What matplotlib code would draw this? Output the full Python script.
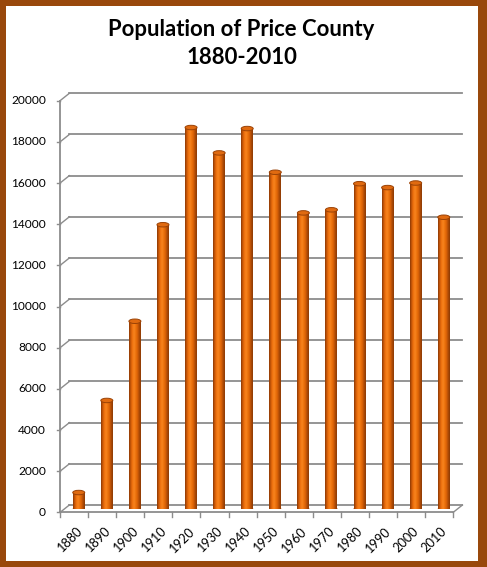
import matplotlib
matplotlib.use('Agg')
import matplotlib.pyplot as plt
from matplotlib.patches import Ellipse, Rectangle
import numpy as np

years = ['1880', '1890', '1900', '1910', '1920', '1930', '1940',
         '1950', '1960', '1970', '1980', '1990', '2000', '2010']
population = [785, 5258, 9106, 13795, 18517, 17284, 18467,
              16344, 14370, 14520, 15788, 15600, 15822, 14159]
yticks = list(range(0, 20001, 2000))

plt.rcParams['font.family'] = ['Lato', 'DejaVu Sans']

W, H = 487, 567
fig = plt.figure(figsize=(W / 100, H / 100), dpi=100)
fig.patch.set_facecolor('white')

# axes = middle depth of the fake 3d box (pixels)
ax_l, ax_r, ax_top, ax_bot = 64.7, 457.8, 97.0, 508.7
ax = fig.add_axes([ax_l / W, (H - ax_bot) / H, (ax_r - ax_l) / W, (ax_bot - ax_top) / H])
n = len(years)
px2x = n / (ax_r - ax_l)
px2y = 20000 / (ax_bot - ax_top)
dx = 4.65 * px2x   # half depth offset
dy = 3.7 * px2y

grid_c = '#8c8c8c'
tick_fs = 8.6
# back wall gridlines and left side diagonals
for v in yticks:
    ax.plot([-0.5 + dx, n - 0.5 + dx], [v + dy, v + dy], color=grid_c, lw=1.3, zorder=1, clip_on=False)
    ax.plot([-0.5 - dx, -0.5 + dx], [v - dy, v + dy], color=grid_c, lw=1.0, zorder=1, clip_on=False)
    ax.plot([-0.5 - dx - 3 * px2x, -0.5 - dx], [v - dy, v - dy], color=grid_c, lw=1.0, clip_on=False)
    ax.text(-0.5 - dx - 14 * px2x, v - dy, str(v), ha='right', va='center', fontsize=tick_fs, color='black')

# front axis + floor
ax.plot([-0.5 - dx, -0.5 - dx], [-dy, 20000 - dy], color=grid_c, lw=1.3, clip_on=False)
ax.plot([-0.5 - dx, n - 0.5 - dx], [-dy, -dy], color=grid_c, lw=1.3, clip_on=False, zorder=2)
ax.plot([n - 0.5 - dx, n - 0.5 + dx], [-dy, dy], color=grid_c, lw=1.0, clip_on=False)
for k in range(n + 1):
    ax.plot([k - 0.5 - dx, k - 0.5 - dx], [-dy, -dy - 5 * px2y], color=grid_c, lw=1.0, clip_on=False)

# cylinders
bw = 12 * px2x
shade = np.array([
    [0.55, 0.22, 0.02],
    [0.80, 0.35, 0.03],
    [0.94, 0.45, 0.06],
    [0.97, 0.52, 0.12],
    [0.93, 0.45, 0.05],
    [0.85, 0.38, 0.03],
    [0.68, 0.29, 0.02],
    [0.55, 0.23, 0.02],
])
grad = np.array([[np.interp(t, np.linspace(0, 1, len(shade)), shade[:, c]) for c in range(3)]
                 for t in np.linspace(0, 1, 40)])[None, :, :]
eh = 4.5 * px2y
for i, v in enumerate(population):
    ax.add_patch(Ellipse((i, 0), bw, eh, fc='#c85a08', ec='none', zorder=2.5))
    ax.imshow(grad, extent=[i - bw / 2, i + bw / 2, 0, v], aspect='auto',
              interpolation='bilinear', zorder=3)
    ax.add_patch(Ellipse((i, v), bw, eh, fc='#e06a10', ec='#9a4206', lw=0.7, zorder=4))
    ax.text(i - dx + 1.5 * px2x, -dy - 13 * px2y, years[i], rotation=45, rotation_mode='anchor',
            ha='right', va='top', fontsize=9.2, color='black')

ax.set_xlim(-0.5, n - 0.5)
ax.set_ylim(0, 20000)
ax.axis('off')

fig.text(241.5 / W, 1 - 35.7 / H, 'Population of Price County', ha='center', va='baseline',
         fontsize=15.9, fontweight='bold')
fig.text(241.5 / W, 1 - 64.3 / H, '1880-2010', ha='center', va='baseline',
         fontsize=15.9, fontweight='bold')

# brown frame
brown = '#99480c'
for x0, y0, w, h in [(0, 0, 6, H), (478, 0, W - 478, H), (0, 0, W, 6.5), (0, H - 6, W, 6)]:
    fig.add_artist(Rectangle((x0 / W, y0 / H), w / W, h / H, transform=fig.transFigure,
                             fc=brown, ec='none', zorder=10))

fig.savefig('out.png', dpi=100)
